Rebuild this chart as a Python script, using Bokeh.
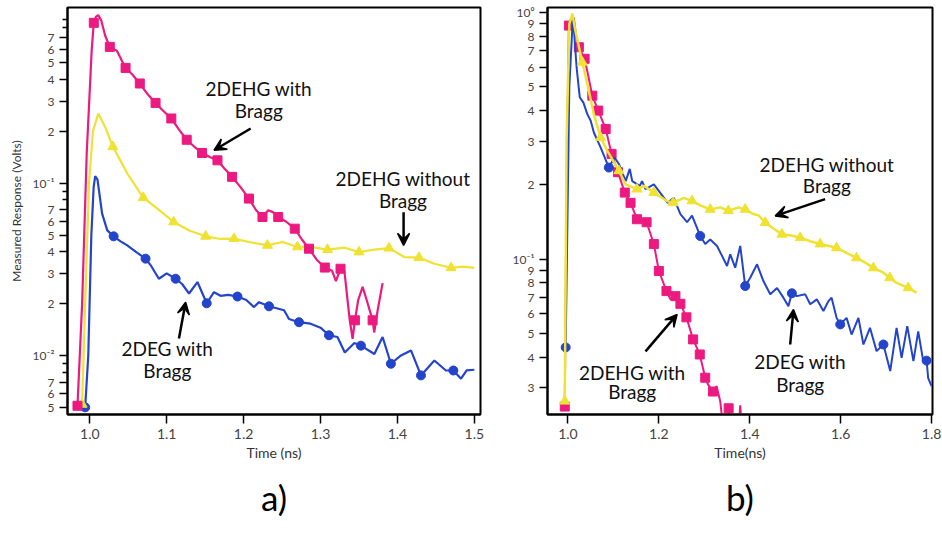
from bokeh.plotting import figure
from bokeh.layouts import row
from bokeh.models import Range1d, FixedTicker, Arrow, VeeHead, Label, Title, PrintfTickFormatter
from bokeh.embed import file_html
from bokeh.resources import INLINE

# ---------------- Panel a) data ----------------
a_pink_t = [0.984, 0.990, 0.996, 1.0025, 1.0052, 1.008, 1.011, 1.015, 1.020, 1.026, 1.035, 1.0465, 1.055,
            1.065, 1.075, 1.0855, 1.095, 1.106, 1.116, 1.126, 1.136, 1.146, 1.156, 1.166, 1.175, 1.185,
            1.196, 1.207, 1.216, 1.2245, 1.232, 1.238, 1.245, 1.255, 1.2665, 1.276, 1.285, 1.295, 1.3056,
            1.315, 1.320, 1.326, 1.331, 1.338, 1.3417, 1.3447, 1.349, 1.3547, 1.360, 1.3677, 1.3698,
            1.374, 1.3807]
a_pink_v = [0.0051, 0.02, 0.15, 0.6, 0.855, 0.93, 0.948, 0.88, 0.72, 0.62, 0.59, 0.468, 0.43,
            0.38, 0.33, 0.293, 0.265, 0.238, 0.205, 0.179, 0.163, 0.150, 0.142, 0.136, 0.122, 0.109,
            0.095, 0.0815, 0.070, 0.0637, 0.0697, 0.068, 0.0637, 0.060, 0.0545, 0.047, 0.0417, 0.036, 0.0324,
            0.031, 0.027, 0.0319, 0.031, 0.016, 0.0125, 0.016, 0.021, 0.025, 0.021, 0.016, 0.0136,
            0.018, 0.0263]
a_pink_mt = [0.984, 1.0052, 1.026, 1.0465, 1.065, 1.0855, 1.106, 1.126, 1.146, 1.166, 1.185, 1.207,
             1.2245, 1.245, 1.2665, 1.285, 1.3056, 1.326, 1.3447, 1.3677]
a_pink_mv = [0.0051, 0.855, 0.62, 0.468, 0.38, 0.293, 0.238, 0.179, 0.150, 0.136, 0.109, 0.0815,
             0.0637, 0.0637, 0.0545, 0.0417, 0.0324, 0.0319, 0.016, 0.016]

a_yel_t = [0.990, 0.994, 0.999, 1.004, 1.011, 1.020, 1.030, 1.040, 1.0487, 1.0695, 1.090, 1.109, 1.130,
           1.1507, 1.170, 1.1875, 1.207, 1.231, 1.2505, 1.270, 1.287, 1.309, 1.3307, 1.350, 1.370,
           1.389, 1.409, 1.428, 1.448, 1.4697, 1.485, 1.500]
a_yel_v = [0.0052, 0.02, 0.1, 0.2, 0.254, 0.212, 0.163, 0.135, 0.114, 0.0826, 0.070, 0.0596, 0.053,
           0.0492, 0.0475, 0.0477, 0.0456, 0.0436, 0.0456, 0.0427, 0.0427, 0.0412, 0.0423, 0.0399, 0.0412,
           0.042, 0.0373, 0.037, 0.0341, 0.0323, 0.0328, 0.0323]
a_yel_mt = [0.990, 1.030, 1.0695, 1.109, 1.1507, 1.1875, 1.231, 1.270, 1.309, 1.350, 1.389, 1.428, 1.4697]
a_yel_mv = [0.0052, 0.163, 0.0826, 0.0596, 0.0492, 0.0477, 0.0436, 0.0427, 0.0412, 0.0399, 0.042, 0.037, 0.0323]

a_blue_t = [0.994, 0.998, 1.002, 1.005, 1.007, 1.010, 1.016, 1.0227, 1.031, 1.040, 1.0487, 1.060, 1.0725,
            1.080, 1.0898, 1.100, 1.1116, 1.120, 1.129, 1.140, 1.152, 1.1615, 1.170, 1.180, 1.192, 1.2035,
            1.2135, 1.220, 1.233, 1.2526, 1.259, 1.272, 1.287, 1.300, 1.311, 1.322, 1.3316, 1.344, 1.3525,
            1.370, 1.3807, 1.3915, 1.4046, 1.4176, 1.4306, 1.448, 1.463, 1.4727, 1.4827, 1.490, 1.500]
a_blue_v = [0.005, 0.01, 0.05, 0.095, 0.11, 0.105, 0.0667, 0.0533, 0.0492, 0.046, 0.0436, 0.040, 0.0365,
            0.033, 0.0279, 0.030, 0.0279, 0.026, 0.0229, 0.0267, 0.0201, 0.0233, 0.0222, 0.0225, 0.022, 0.0210,
            0.0191, 0.0204, 0.0193, 0.0183, 0.0163, 0.0156, 0.0153, 0.0145, 0.0131, 0.0128, 0.0104, 0.0118, 0.0114,
            0.0102, 0.0128, 0.00895, 0.0100, 0.0107, 0.00766, 0.00935, 0.00818, 0.00818, 0.00733, 0.0082, 0.00826]
a_blue_mt = [0.994, 1.031, 1.0725, 1.1116, 1.152, 1.192, 1.233, 1.272, 1.311, 1.3525, 1.3915, 1.4306, 1.4727]
a_blue_mv = [0.005, 0.0492, 0.0365, 0.0279, 0.0201, 0.022, 0.0193, 0.0156, 0.0131, 0.0114, 0.00895, 0.00766, 0.00818]

# ---------------- Panel b) data ----------------
b_pink_t = [0.993, 0.997, 1.002, 1.007, 1.013, 1.018, 1.024, 1.0367, 1.045, 1.0536, 1.0667, 1.083, 1.096,
            1.110, 1.125, 1.1377, 1.152, 1.162, 1.173, 1.189, 1.200, 1.2167, 1.2255, 1.2364, 1.2474, 1.2606,
            1.2753, 1.290, 1.302, 1.308, 1.319, 1.327, 1.335, 1.341, 1.347, 1.3535, 1.358, 1.376, 1.379, 1.382]
b_pink_v = [0.0252, 0.2, 0.885, 0.95, 0.95, 0.80, 0.723, 0.649, 0.55, 0.46, 0.40, 0.337, 0.267,
            0.225, 0.186, 0.169, 0.145, 0.143, 0.141, 0.115, 0.0894, 0.0741, 0.0686, 0.0707, 0.0658, 0.058,
            0.0472, 0.041, 0.033, 0.031, 0.029, 0.0305, 0.0265, 0.021, 0.021, 0.0248, 0.021, 0.021, 0.0255, 0.021]
b_pink_mt = [0.993, 1.002, 1.024, 1.0367, 1.0536, 1.0667, 1.083, 1.096, 1.110, 1.125, 1.1377, 1.152, 1.173,
             1.189, 1.200, 1.2167, 1.2364, 1.2474, 1.2606, 1.2753, 1.290, 1.302, 1.319, 1.3535]
b_pink_mv = [0.0252, 0.885, 0.723, 0.649, 0.46, 0.40, 0.337, 0.267, 0.225, 0.186, 0.169, 0.145, 0.141,
             0.115, 0.0894, 0.0741, 0.0707, 0.0658, 0.058, 0.0472, 0.041, 0.033, 0.029, 0.0248]

b_blue_t = [0.995, 1.003, 1.011, 1.019, 1.026, 1.034, 1.0426, 1.050, 1.057, 1.072, 1.090, 1.1025, 1.112,
            1.127, 1.136, 1.1414, 1.158, 1.163, 1.1706, 1.189, 1.1998, 1.2195, 1.2327, 1.2474, 1.262, 1.273,
            1.291, 1.302, 1.313, 1.328, 1.339, 1.350, 1.357, 1.368, 1.379, 1.390, 1.401, 1.416, 1.430, 1.445,
            1.460, 1.474, 1.485, 1.4926, 1.5036, 1.522, 1.533, 1.5475, 1.562, 1.573, 1.580, 1.591, 1.599, 1.613,
            1.624, 1.639, 1.650, 1.6645, 1.679, 1.694, 1.709, 1.723, 1.734, 1.7465, 1.760, 1.7706, 1.7816,
            1.789, 1.7925, 1.800]
b_blue_v = [0.0438, 0.5, 0.973, 0.60, 0.453, 0.431, 0.387, 0.364, 0.326, 0.283, 0.235, 0.258, 0.243,
            0.207, 0.232, 0.207, 0.198, 0.207, 0.192, 0.201, 0.189, 0.169, 0.177, 0.152, 0.141, 0.150,
            0.124, 0.115, 0.120, 0.113, 0.103, 0.0937, 0.1045, 0.0922, 0.113, 0.0777, 0.0839, 0.0952, 0.0814, 0.0719,
            0.0763, 0.0697, 0.0644, 0.0726, 0.0707, 0.0719, 0.0655, 0.0686, 0.0615, 0.0675, 0.0697, 0.0577, 0.0543, 0.0577,
            0.0494, 0.0577, 0.045, 0.0526, 0.0423, 0.045, 0.0351, 0.0526, 0.0397, 0.0534, 0.0385, 0.0509, 0.0385,
            0.0387, 0.0329, 0.0305]
b_blue_mt = [0.995, 1.090, 1.291, 1.390, 1.4926, 1.599, 1.694, 1.789]
b_blue_mv = [0.0438, 0.235, 0.124, 0.0777, 0.0726, 0.0543, 0.045, 0.0387]

b_yel_t = [0.993, 0.997, 1.003, 1.0097, 1.016, 1.0316, 1.0426, 1.057, 1.0718, 1.0865, 1.097, 1.112, 1.127,
           1.152, 1.167, 1.189, 1.218, 1.2314, 1.2547, 1.273, 1.291, 1.313, 1.335, 1.353, 1.375, 1.390, 1.405,
           1.420, 1.434, 1.452, 1.4707, 1.497, 1.511, 1.533, 1.5548, 1.591, 1.617, 1.635, 1.657, 1.672, 1.694,
           1.708, 1.723, 1.7486, 1.767]
b_yel_v = [0.0265, 0.3, 0.9, 0.99, 0.85, 0.628, 0.513, 0.387, 0.311, 0.275, 0.255, 0.228, 0.201,
           0.192, 0.198, 0.186, 0.172, 0.169, 0.177, 0.172, 0.165, 0.159, 0.162, 0.157, 0.162, 0.159, 0.153,
           0.150, 0.1405, 0.133, 0.126, 0.124, 0.122, 0.118, 0.115, 0.111, 0.105, 0.101, 0.096, 0.092, 0.088,
           0.0839, 0.080, 0.0764, 0.073]
b_yel_mt = [0.993, 1.0316, 1.0718, 1.112, 1.152, 1.189, 1.2314, 1.273, 1.313, 1.353, 1.390, 1.434, 1.4707,
            1.511, 1.5548, 1.591, 1.635, 1.672, 1.708, 1.7486]
b_yel_mv = [0.0265, 0.628, 0.311, 0.228, 0.192, 0.186, 0.169, 0.172, 0.159, 0.157, 0.159, 0.1405, 0.126,
            0.122, 0.115, 0.111, 0.101, 0.092, 0.0839, 0.0764]

# ---------------- ticks ----------------
a_xticks = [1.0, 1.1, 1.2, 1.3, 1.4, 1.5]
b_xticks = [1.0, 1.2, 1.4, 1.6, 1.8]
a_yticks = [0.005, 0.006, 0.007, 0.01, 0.02, 0.03, 0.04, 0.05, 0.06, 0.07, 0.1, 0.2, 0.3, 0.4, 0.5, 0.6, 0.7]
a_yminor = [0.008, 0.009, 0.08, 0.09, 0.8, 0.9]
a_ylabels = ["5", "6", "7", "10\u207b\u00b2", "2", "3", "4", "5", "6", "7", "10\u207b\u00b9", "2", "3", "4", "5", "6", "7"]
b_yticks = [0.03, 0.04, 0.05, 0.06, 0.07, 0.08, 0.09, 0.1, 0.2, 0.3, 0.4, 0.5, 0.6, 0.7, 0.8, 0.9, 1.0]
b_ylabels = ["3", "4", "5", "6", "7", "8", "9", "10\u207b\u00b9", "2", "3", "4", "5", "6", "7", "8", "9", "10\u2070"]

# ---------------- annotations (text, t, v) ----------------
a_texts = [("2DEHG with", 1.2197, 0.3567), ("Bragg", 1.2197, 0.2657),
           ("2DEHG without", 1.4072, 0.1065), ("Bragg", 1.4072, 0.0797),
           ("2DEG with", 1.1008, 0.01094), ("Bragg", 1.1008, 0.00818)]
a_arrows = [(1.2092, 0.208, 1.1615, 0.1556), (1.408, 0.0678, 1.408, 0.0436), (1.1159, 0.01256, 1.1246, 0.0204)]
b_texts = [("2DEHG without", 1.5695, 0.2427), ("Bragg", 1.5695, 0.198),
           ("2DEG with", 1.5109, 0.03849), ("Bragg", 1.5109, 0.0310),
           ("2DEHG with", 1.1414, 0.0345), ("Bragg", 1.1414, 0.02906)]
b_arrows = [(1.5658, 0.175, 1.456, 0.1496), (1.4889, 0.045, 1.4962, 0.0624), (1.1706, 0.0422, 1.2402, 0.0596)]

PINK = "#EC1A80"
YELLOW = "#F0E232"
BLUE = "#2444CC"
FONT = "Lato"


def make_fig(width, left, x0, x1, y0, y1, xticks, yticks, yminor, ylabels, xlabel, ylabel, panel):
    p = figure(width=width, height=533, y_axis_type="log", x_range=Range1d(x0, x1), y_range=Range1d(y0, y1),
               output_backend="svg", toolbar_location=None, min_border_left=left, min_border_right=10,
               min_border_top=7, min_border_bottom=119)
    p.grid.visible = False
    p.outline_line_color = "black"
    p.outline_line_width = 2
    p.outline_line_alpha = 1
    p.background_fill_color = "white"
    p.border_fill_color = "white"

    p.xaxis.ticker = FixedTicker(ticks=xticks, minor_ticks=[])
    p.xaxis.formatter = PrintfTickFormatter(format="%.1f")
    p.yaxis.ticker = FixedTicker(ticks=yticks, minor_ticks=yminor)
    p.yaxis.major_label_overrides = {t: l for t, l in zip(yticks, ylabels)}
    for ax in (p.xaxis, p.yaxis):
        ax.axis_line_color = "black"
        ax.axis_line_width = 2
        ax.major_tick_line_width = 1.5
        ax.minor_tick_line_width = 1.5
        ax.major_tick_in = 0
        ax.minor_tick_in = 0
        ax.major_label_text_font = FONT
        ax.major_label_text_color = "#444444"
        ax.axis_label_text_font = FONT
        ax.axis_label_text_font_style = "normal"
        ax.axis_label_text_color = "#333333"
    p.xaxis.major_tick_out = 9
    p.yaxis.major_tick_out = 8
    p.yaxis.minor_tick_out = 5
    p.xaxis.major_label_text_font_size = "14px"
    p.yaxis.major_label_text_font_size = "12px"
    p.xaxis.axis_label = xlabel
    p.xaxis.axis_label_text_font_size = "14px"
    p.xaxis.axis_label_standoff = 2
    if ylabel:
        p.yaxis.axis_label = ylabel
        p.yaxis.axis_label_text_font_size = "12px"
        p.yaxis.axis_label_standoff = 6
    p.add_layout(Title(text=panel, align="center", text_font=FONT, text_font_size="35px",
                       text_font_style="normal", text_color="black", standoff=20), "below")
    return p


p1 = make_fig(490, 67, 0.971, 1.508, 0.00454, 1.05, a_xticks, a_yticks, a_yminor, a_ylabels,
              "Time (ns)", "Measured Response (Volts)", "a)")
p1.line(a_blue_t, a_blue_v, color=BLUE, line_width=2.2)
p1.scatter(a_blue_mt, a_blue_mv, marker="circle", size=9, color=BLUE)
p1.line(a_yel_t, a_yel_v, color=YELLOW, line_width=2.2)
p1.scatter(a_yel_mt, a_yel_mv, marker="triangle", size=10, color=YELLOW)
p1.line(a_pink_t, a_pink_v, color=PINK, line_width=2.2)
p1.scatter(a_pink_mt, a_pink_mv, marker="square", size=9, color=PINK)

p2 = make_fig(452, 57, 0.955, 1.802, 0.0234, 1.048, b_xticks, b_yticks, [], b_ylabels,
              "Time(ns)", None, "b)")
p2.line(b_pink_t, b_pink_v, color=PINK, line_width=2)
p2.scatter(b_pink_mt, b_pink_mv, marker="square", size=9, color=PINK)
p2.line(b_blue_t, b_blue_v, color=BLUE, line_width=2)
p2.scatter(b_blue_mt, b_blue_mv, marker="circle", size=9, color=BLUE)
p2.line(b_yel_t, b_yel_v, color=YELLOW, line_width=2.5)
p2.scatter(b_yel_mt, b_yel_mv, marker="triangle", size=10, color=YELLOW)

for p, texts, arrows in ((p1, a_texts, a_arrows), (p2, b_texts, b_arrows)):
    for txt, t, v in texts:
        p.add_layout(Label(x=t, y=v, text=txt, text_align="center", text_baseline="middle",
                           text_font=FONT, text_font_size="19px", text_color="#111111"))
    for xs, ys, xe, ye in arrows:
        p.add_layout(Arrow(x_start=xs, y_start=ys, x_end=xe, y_end=ye, line_width=2.5, line_color="black",
                           end=VeeHead(size=12, fill_color="black", line_color="black", line_width=1.5)))

layout = row(p1, p2)
open("out.html", "w").write(file_html(layout, INLINE))
